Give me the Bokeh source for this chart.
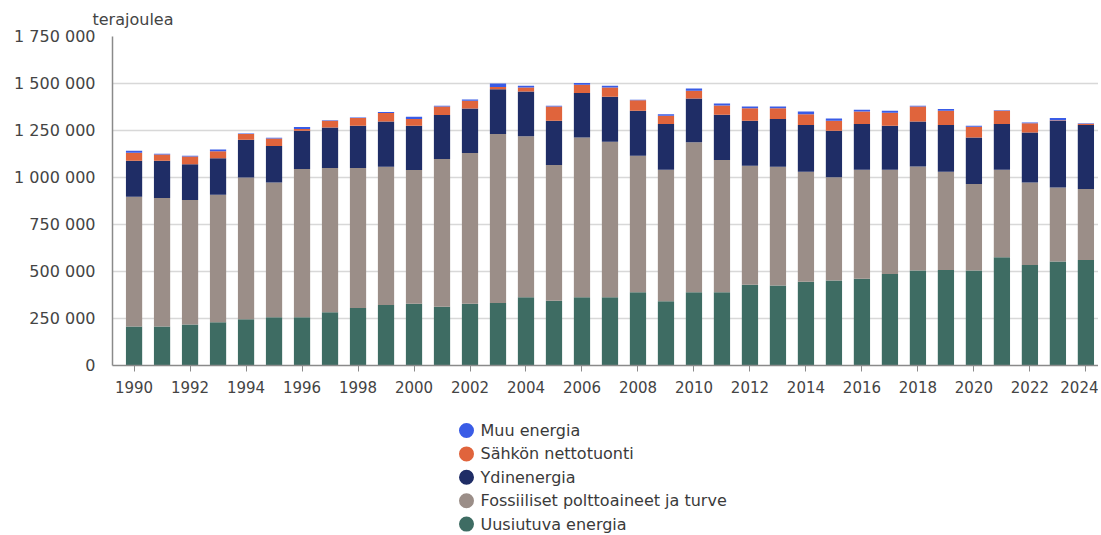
from bokeh.plotting import figure
from bokeh.models import FixedTicker, ColumnDataSource, Range1d
from bokeh.layouts import column
from bokeh.core.properties import value
from bokeh.embed import file_html
from bokeh.resources import INLINE

years = list(range(1990, 2025))
# terajoulea (values read in thousands, scaled below)
uusiutuva = [207, 207, 218, 230, 246, 257, 257, 283, 306, 322, 328, 313, 328, 333, 363, 345, 363, 363,
             390, 342, 390, 390, 430, 425, 446, 452, 462, 487, 505, 508, 505, 576, 535, 553, 561]
fossiiliset = [691, 684, 662, 678, 754, 717, 788, 767, 744, 735, 712, 785, 802, 898, 857, 721, 850, 827,
               726, 699, 797, 703, 633, 632, 585, 549, 579, 554, 554, 523, 460, 465, 439, 394, 378]
ydinenergia = [191, 198, 191, 195, 201, 193, 204, 216, 225, 241, 235, 234, 237, 239, 238, 236, 237, 239,
               239, 243, 233, 241, 239, 254, 248, 248, 243, 234, 239, 248, 248, 243, 266, 355, 340]
sahko = [43, 34, 41, 37, 30, 41, 9, 36, 41, 45, 36, 46, 41, 12, 21, 76, 43, 50,
         56, 44, 41, 49, 67, 58, 58, 53, 67, 69, 80, 76, 57, 71, 49, 3, 7]
muu = [10, 3, 4, 9, 3, 3, 10, 3, 3, 5, 12, 3, 7, 18, 9, 3, 9, 9,
       3, 9, 12, 11, 9, 9, 14, 12, 9, 11, 3, 9, 5, 3, 3, 12, 3]

series_names = ["Uusiutuva energia", "Fossiiliset polttoaineet ja turve", "Ydinenergia",
                "Sähkön nettotuonti", "Muu energia"]
series_keys = ["uus", "fos", "ydin", "sah", "muu"]
colors = ["#3e6c63", "#9b8e88", "#1f2d66", "#e0643c", "#3a5ce6"]

y_ticks = [0, 250000, 500000, 750000, 1000000, 1250000, 1500000, 1750000]
y_tick_labels = ["0", "250 000", "500 000", "750 000", "1 000 000", "1 250 000", "1 500 000", "1 750 000"]
x_ticks = list(range(1990, 2025, 2))
x_tick_labels = [str(y) for y in x_ticks]

data = {"year": years}
for k, arr in zip(series_keys, [uusiutuva, fossiiliset, ydinenergia, sahko, muu]):
    data[k] = [v * 1000 for v in arr]
src = ColumnDataSource(data)

FONT = "DejaVu Sans"
W = 1098
LEFT = 112

p = figure(width=W, height=405, output_backend="svg", toolbar_location=None,
           x_range=Range1d(1989.23, 2024.45), y_range=Range1d(0, 1750000),
           min_border_left=LEFT, min_border_right=0, min_border_top=36, min_border_bottom=40,
           title="terajoulea")
p.title.text_font = FONT
p.title.text_font_size = "16px"
p.title.text_font_style = "normal"
p.title.text_color = "#444444"
p.title.align = "left"
p.title.offset = -20
p.title.standoff = 15

p.vbar_stack(series_keys, x="year", width=0.58, source=src, color=colors, line_color=None)

p.outline_line_color = None
p.background_fill_color = "white"
p.border_fill_color = "white"
p.xgrid.grid_line_color = None
p.ygrid.grid_line_color = "#d8d8d8"
p.ygrid.grid_line_width = 1.5

p.yaxis.ticker = FixedTicker(ticks=y_ticks)
p.yaxis.major_label_overrides = {t: l for t, l in zip(y_ticks, y_tick_labels)}
p.yaxis.major_tick_out = 0
p.yaxis.major_tick_in = 0
p.yaxis.minor_tick_out = 0
p.yaxis.minor_tick_in = 0
p.yaxis.axis_line_color = "#8a8a8a"
p.yaxis.axis_line_width = 1.5
p.yaxis.major_label_standoff = 17
p.yaxis.major_label_text_font_size = "16px"

p.xaxis.ticker = FixedTicker(ticks=x_ticks)
p.xaxis.major_label_overrides = {t: l for t, l in zip(x_ticks, x_tick_labels)}
p.xaxis.major_tick_out = 6
p.xaxis.major_tick_in = 0
p.xaxis.minor_tick_out = 0
p.xaxis.minor_tick_in = 0
p.xaxis.axis_line_color = "#8a8a8a"
p.xaxis.major_tick_line_color = "#8a8a8a"
p.xaxis.axis_line_width = 1.5
p.xaxis.major_label_standoff = 9
p.xaxis.major_label_text_font_size = "15px"

for ax in (p.xaxis, p.yaxis):
    ax.major_label_text_font = FONT
    ax.major_label_text_color = "#444444"

# legend (top-to-bottom order as in reference); x range in page pixels
leg_names = list(reversed(series_names))
leg_colors = list(reversed(colors))
n = len(leg_names)
row_h = 23.4
LH = 128
lg = figure(width=W, height=LH, output_backend="svg", toolbar_location=None,
            x_range=Range1d(LEFT, W), y_range=Range1d(0, LH),
            x_axis_location=None, y_axis_location=None,
            min_border_left=LEFT, min_border_right=0, min_border_top=0, min_border_bottom=0)
lg.grid.visible = False
lg.outline_line_color = None
lg.border_fill_color = "white"
leg_src = ColumnDataSource(dict(
    name=leg_names, color=leg_colors,
    y=[LH - 25 - i * row_h for i in range(n)],
    cx=[466] * n, tx=[480] * n))
lg.scatter(x="cx", y="y", size=15, color="color", line_color=None, source=leg_src)
lg.text(x="tx", y="y", text="name", source=leg_src, text_font=value(FONT),
        text_font_size="16px", text_color="#3a3a3a", text_baseline="middle", text_align="left")

layout = column(p, lg, spacing=0)
open("out.html", "w").write(file_html(layout, INLINE))
